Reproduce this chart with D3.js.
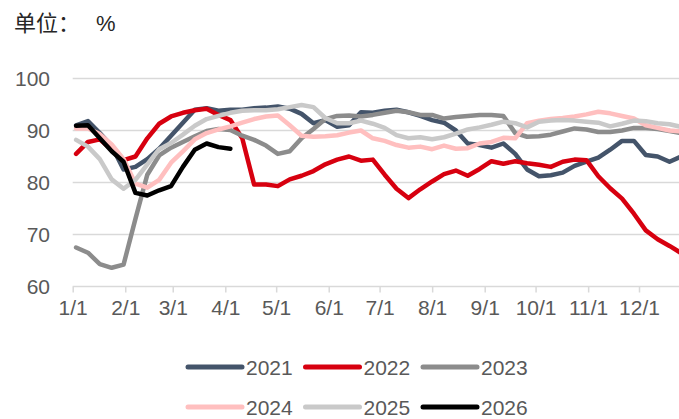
<!DOCTYPE html>
<html>
<head>
<meta charset="utf-8">
<script src="https://cdn.jsdelivr.net/npm/d3@7"></script>
<style>
  body { margin: 0; background: #fff; }
  svg { display: block; font-family: "Liberation Sans", Arial, sans-serif; }
</style>
</head>
<body>
<div id="chart"></div>
<script>
// weekly dates (month/day), shared by every year
var weeks = ["1/3","1/10","1/17","1/24","1/31","2/7","2/14","2/21","2/28","3/7","3/14","3/21","3/28",
    "4/4","4/11","4/18","4/25","5/2","5/9","5/16","5/23","5/30","6/6","6/13","6/20","6/27",
    "7/4","7/11","7/18","7/25","8/1","8/8","8/15","8/22","8/29","9/5","9/12","9/19","9/26",
    "10/3","10/10","10/17","10/24","10/31","11/7","11/14","11/21","11/28","12/5","12/12","12/19","12/26"];

var monthTicks = ["1/1","2/1","3/1","4/1","5/1","6/1","7/1","8/1","9/1","10/1","11/1","12/1"];
var yTicks = [60, 70, 80, 90, 100];

var years = ["2021", "2022", "2023", "2024", "2025", "2026"];
var colors = ["#44546a", "#d7000f", "#8c8c8c", "#ffbfbf", "#c9c9c9", "#000000"];

var v2021 = [91.0, 91.8, 89.5, 87.0, 82.5, 83.0, 84.5, 86.5, 89.0, 91.5, 94.0, 94.3, 93.8,
    94.0, 94.0, 94.3, 94.4, 94.6, 94.2, 93.2, 91.4, 92.0, 90.7, 91.0, 93.5, 93.4,
    93.8, 94.0, 93.5, 92.8, 92.0, 91.5, 90.0, 87.5, 87.2, 86.7, 87.5, 85.5, 82.5,
    81.2, 81.4, 81.9, 83.2, 84.0, 84.8, 86.3, 88.0, 88.0, 85.3, 85.0, 84.0, 85.0];
var v2022 = [85.5, 87.8, 88.3, 86.3, 84.3, 85.0, 88.5, 91.3, 92.7, 93.4, 93.9, 94.2, 93.0,
    92.0, 88.5, 79.6, 79.6, 79.3, 80.6, 81.3, 82.2, 83.5, 84.4, 85.0, 84.2, 84.4,
    81.5, 78.8, 77.0, 78.7, 80.2, 81.6, 82.3, 81.3, 82.6, 84.1, 83.6, 84.1, 83.7,
    83.4, 83.0, 84.0, 84.4, 84.3, 81.2, 78.9, 76.9, 74.0, 70.8, 69.1, 67.8, 66.4];
var v2023 = [67.5, 66.5, 64.3, 63.6, 64.2, 73.0, 81.5, 85.2, 86.7, 87.8, 88.9, 89.9, 90.3,
    90.1, 89.0, 88.2, 87.1, 85.5, 86.0, 88.5, 90.3, 92.2, 92.8, 92.9, 92.7, 93.0,
    93.4, 93.8, 93.5, 93.0, 93.0, 92.3, 92.6, 92.8, 93.0, 93.0, 92.8, 89.5, 88.8,
    88.9, 89.2, 89.8, 90.4, 90.2, 89.7, 89.7, 90.0, 90.5, 90.5, 90.3, 89.9, 89.5];
var v2024 = [90.4, 90.4, 89.3, 87.3, 84.5, 79.8, 79.0, 80.5, 83.8, 86.0, 88.3, 89.5, 90.2,
    90.8, 91.5, 92.2, 92.7, 92.9, 91.0, 89.0, 88.8, 88.9, 89.1, 89.6, 90.0, 88.5,
    88.0, 87.2, 86.7, 86.9, 86.4, 87.1, 86.5, 86.6, 87.5, 87.8, 88.6, 88.5, 91.4,
    91.9, 92.2, 92.4, 92.7, 93.1, 93.6, 93.3, 92.8, 92.3, 91.0, 90.5, 90.0, 89.8];
var v2025 = [88.2, 86.9, 84.5, 80.6, 78.8, 80.5, 83.5, 86.4, 87.6, 89.2, 90.9, 92.2, 92.8,
    93.4, 93.8, 93.9, 93.9, 94.1, 94.5, 94.9, 94.5, 92.4, 91.4, 91.4, 91.9, 91.3,
    90.5, 89.1, 88.5, 88.7, 88.3, 88.7, 89.4, 90.2, 90.6, 91.1, 91.7, 91.4, 90.6,
    91.7, 91.9, 92.0, 91.9, 91.7, 91.5, 90.8, 91.3, 91.9, 91.8, 91.4, 91.2, 90.7];
var v2026 = [90.9, 91.0, 88.5, 86.0, 84.0, 78.0, 77.5, 78.5, 79.3, 83.0, 86.3, 87.5, 86.8, 86.5];

var values = [v2021, v2022, v2023, v2024, v2025, v2026];

var width = 679, height = 419;
var margin = {left: 72.7, right: 0, top: 78.5, bottom: 132.5};

var parseMD = function(s) {
    var p = s.split("/");
    return new Date(2021, +p[0] - 1, +p[1]);
};

var svg = d3.select("#chart").append("svg")
    .attr("width", width)
    .attr("height", height);

// x is a day-of-year time scale, y is the percent
var x = d3.scaleTime()
    .domain([new Date(2021, 0, 1), new Date(2021, 11, 25)])
    .range([margin.left, 679.7]);
var y = d3.scaleLinear()
    .domain([60, 100])
    .range([height - margin.bottom, margin.top]);

// Title
var title = svg.append("text")
    .attr("x", 14)
    .attr("y", 31)
    .attr("fill", "#262626")
    .style("font-family", "'Noto Sans CJK SC', sans-serif")
    .style("font-size", "22px")
    .text("单位：");
title.append("tspan")
    .attr("x", 96)
    .style("font-family", "'Liberation Sans', Arial, sans-serif")
    .style("font-size", "22px")
    .text("%");

// Gridlines
svg.append("g")
    .selectAll("line")
    .data(yTicks.filter(function(d) { return d > 60; }))
    .enter().append("line")
    .attr("x1", margin.left)
    .attr("x2", width)
    .attr("y1", function(d) { return y(d); })
    .attr("y2", function(d) { return y(d); })
    .attr("stroke", "#d9d9d9")
    .attr("stroke-width", 1.3);

// Y axis labels
svg.append("g")
    .selectAll("text")
    .data(yTicks)
    .enter().append("text")
    .attr("x", 50)
    .attr("y", function(d) { return y(d) + 7.5; })
    .attr("text-anchor", "end")
    .attr("fill", "#595959")
    .style("font-size", "21px")
    .text(function(d) { return d; });

// X axis
var xAxis = d3.axisBottom(x)
    .tickValues(monthTicks.map(parseMD))
    .tickSize(6)
    .tickSizeOuter(0)
    .tickPadding(8)
    .tickFormat(function(d, i) { return monthTicks[i]; });

var gx = svg.append("g")
    .attr("transform", "translate(0," + y(60) + ")")
    .call(xAxis);
gx.select(".domain")
    .attr("d", "M" + margin.left + ",0H" + width)
    .attr("stroke", "#d9d9d9")
    .attr("stroke-width", 1.5);
gx.selectAll(".tick line")
    .attr("stroke", "#d9d9d9")
    .attr("stroke-width", 1.5);
gx.selectAll(".tick text")
    .attr("fill", "#595959")
    .style("font-size", "21px")
    .style("font-family", "'Liberation Sans', Arial, sans-serif");

// Lines
var line = d3.line()
    .x(function(d, i) { return x(parseMD(weeks[i])); })
    .y(function(d) { return y(d); });

svg.append("g")
    .selectAll("path")
    .data(values)
    .enter().append("path")
    .attr("d", function(d) { return line(d); })
    .attr("fill", "none")
    .attr("stroke", function(d, i) { return colors[i]; })
    .attr("stroke-width", 4.5)
    .attr("stroke-linejoin", "round")
    .attr("stroke-linecap", "round");

// Legend, 3 per row
var legend = svg.append("g")
    .selectAll("g")
    .data(years)
    .enter().append("g")
    .attr("transform", function(d, i) {
        return "translate(" + (188 + (i % 3) * 117.5) + "," + (367 + Math.floor(i / 3) * 40) + ")";
    });

legend.append("line")
    .attr("x1", 0)
    .attr("x2", 54)
    .attr("stroke", function(d, i) { return colors[i]; })
    .attr("stroke-width", 5)
    .attr("stroke-linecap", "round");

legend.append("text")
    .attr("x", 58)
    .attr("y", 7.5)
    .attr("fill", "#595959")
    .style("font-size", "21px")
    .text(function(d) { return d; });
</script>
</body>
</html>
